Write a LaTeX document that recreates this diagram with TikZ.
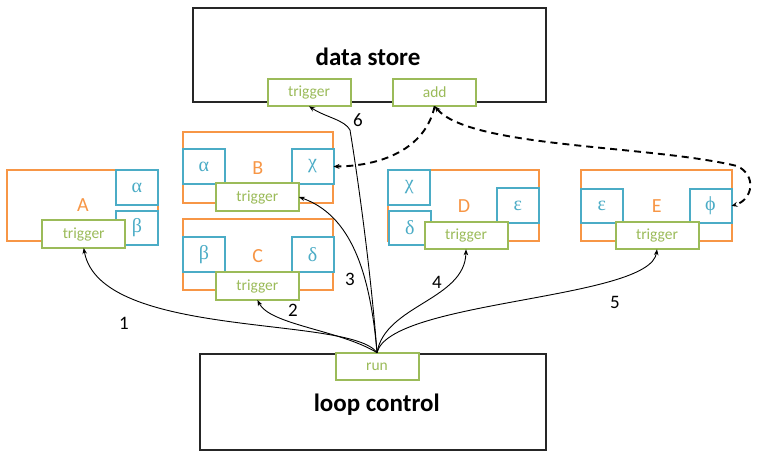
\documentclass[tikz,border=0pt]{standalone}
\usepackage{fontspec}
\setmainfont{Carlito}
\newfontfamily\grk{Liberation Serif}
\usetikzlibrary{arrows.meta}
\definecolor{org}{HTML}{F79646}
\definecolor{blu}{HTML}{4BACC6}
\definecolor{grn}{HTML}{9BBB59}
\tikzset{
  bigbox/.style={draw=black!85, line width=2.2pt, fill=white, inner sep=0pt, outer sep=0pt},
  orbox/.style={draw=org, line width=2pt, inner sep=0pt, outer sep=0pt, minimum width=150.7pt, minimum height=71pt},
  grbox/.style={draw=blu, line width=2pt, fill=white, inner sep=0pt, outer sep=0pt, minimum width=42pt, minimum height=35pt, text=blu, font=\grk\fontsize{20}{20}\selectfont},
  trbox/.style={draw=grn, line width=2pt, fill=white, inner sep=0pt, outer sep=0pt, minimum width=83pt, minimum height=27.5pt, text=grn, font=\fontsize{15.5}{15.5}\selectfont},
  lbl/.style={text=org, font=\fontsize{20}{20}\selectfont, inner sep=0pt},
  big/.style={font=\fontsize{25}{25}\selectfont\bfseries, inner sep=0pt},
  num/.style={font=\fontsize{19}{19}\selectfont, inner sep=0pt},
  conn/.style={draw=black, line width=0.9pt, -{Stealth[length=6pt,width=4.5pt]}},
  dconn/.style={draw=black, line width=1.9pt, dash pattern=on 7pt off 5pt, -{Stealth[length=6pt,width=5pt]}}
}
\begin{document}
\begin{tikzpicture}[x=1pt,y=-1pt]
\useasboundingbox (0,0) rectangle (757,461);
% data store
\node[bigbox, minimum width=353pt, minimum height=94pt] (ds) at (369.5,55) {};
\node[big] (dst) at (368,56.5) {data store};
\node[trbox] (dstrig) at (309,92.5) {trigger};
\node[trbox] (add) at (434.7,92.5) {add};
% loop control
\node[bigbox, minimum width=346pt, minimum height=95.7pt] (lc) at (373,402.2) {};
\node[big] (lct) at (376.7,405) {loop control};
\node[trbox] (run) at (377,366.4) {run};
% A
\node[orbox] (Ao) at (82.7,205) {};
\node[lbl] (Al) at (83,205.5) {A};
\node[grbox] (Aa) at (136.9,187.5) {α};
\node[grbox, minimum height=34.3pt] (Ab) at (136.9,227.9) {β};
\node[trbox] (At) at (83.7,234.2) {trigger};
% B
\node[orbox] (Bo) at (258,167) {};
\node[lbl] (Bl) at (257.7,168) {B};
\node[grbox] (Ba) at (203.9,166.5) {α};
\node[grbox] (Bc) at (312.5,166.5) {χ};
\node[trbox] (Bt) at (257.4,197) {trigger};
% C
\node[orbox] (Co) at (258,254.7) {};
\node[lbl] (Cl) at (257.7,256) {C};
\node[grbox] (Cb) at (203.9,254.5) {β};
\node[grbox] (Cd) at (312.5,254.5) {δ};
\node[trbox] (Ct) at (257.4,286.2) {trigger};
% D
\node[orbox] (Do) at (463.7,205) {};
\node[lbl] (Dl) at (464,205.7) {D};
\node[grbox] (Dc) at (409.2,187.5) {χ};
\node[grbox, minimum height=34.3pt] (Dd) at (409.8,227.9) {δ};
\node[grbox, minimum height=34.4pt] (De) at (517.9,205.5) {ε};
\node[trbox] (Dt) at (466,235.5) {trigger};
% E
\node[orbox] (Eo) at (656.4,205.4) {};
\node[lbl] (El) at (656.7,205.7) {E};
\node[grbox, minimum height=33.7pt] (Ee) at (601.9,205.9) {ε};
\node[grbox, minimum height=33.7pt] (Ep) at (710.5,205.9) {ϕ};
\node[trbox] (Et) at (657,235.5) {trigger};
% connectors
\draw[conn] (run.north) .. controls (350,315) and (100,340) .. (At.south);
\draw[conn] (run.north) .. controls (340,330) and (270,325) .. (Ct.south);
\draw[conn] (run.north) .. controls (370,270) and (350,215) .. (Bt.east);
\draw[conn] (run.north) .. controls (385,305) and (465,300) .. (Dt.south);
\draw[conn] (run.north) .. controls (390,300) and (650,300) .. (Et.south);
\draw[conn] (run.north) .. controls (370,260) and (355,160) .. (350,130) .. controls (345,120) and (325,117) .. (dstrig.south);
\draw[dconn] (add.south) .. controls (425,150) and (380,166) .. (Bc.east);
\draw[dconn, {Stealth[length=6pt,width=5pt]}-{Stealth[length=6pt,width=5pt]}] (add.south) .. controls (470,148) and (650,145) .. (737,166) .. controls (757,175) and (753,200) .. (Ep.east);
% numbers
\node[num] (n1) at (124,323) {1};
\node[num] (n2) at (293,310.5) {2};
\node[num] (n3) at (350,279) {3};
\node[num] (n4) at (437,282) {4};
\node[num] (n5) at (615,302) {5};
\node[num] (n6) at (358,120.5) {6};
\end{tikzpicture}
\end{document}
